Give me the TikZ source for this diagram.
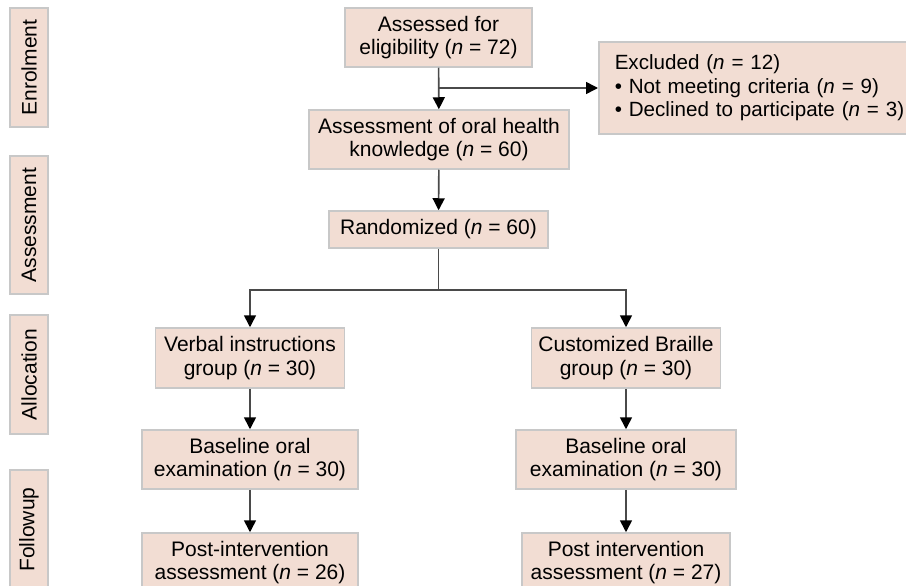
\documentclass[tikz,border=0pt]{standalone}
\usepackage{fontspec}
\setmainfont{Liberation Sans}
\usetikzlibrary{arrows.meta}

\definecolor{boxfill}{HTML}{F2DDD3}
\definecolor{boxline}{HTML}{C8C8C8}
\definecolor{wire}{HTML}{4A4A4A}

\begin{document}
\begin{tikzpicture}[x=1pt,y=-1pt,
  box/.style={draw=boxline,line width=1.5pt,fill=boxfill,align=center,
    inner sep=0pt,font=\fontsize{21}{23.5}\selectfont},
  phase/.style={box,rotate=90,minimum height=38pt},
  arr/.style={draw=wire,line width=1.6pt,-{Triangle[width=12pt,length=12pt,color=black]}}]

\useasboundingbox (0,0) rectangle (906,586);

% phases
\node [phase,minimum width=119pt] (enrol) at (29, 67.5) {Enrolment};
\node [phase,minimum width=138pt] (asses) at (29,225)   {Assessment};
\node [phase,minimum width=119pt] (alloc) at (29,374.5) {Allocation};
\node [phase,minimum width=119pt] (follw) at (29,529.5) {Followup};

\node [box,minimum width=187pt,minimum height=59pt] (elig) at (438.5, 37.5) {Assessed for\\eligibility (\textit{n} = 72)};
\node [box,minimum width=260pt,minimum height=59pt] (know) at (439,139.5) {Assessment of oral health\\knowledge (\textit{n} = 60)};
\node [box,minimum width=219pt,minimum height=37pt] (rand) at (438.5,229.5) {Randomized (\textit{n} = 60)};

\node [box,anchor=west,align=left,text width=310pt,inner xsep=16pt,minimum height=92pt,
  font=\fontsize{20.6}{23.5}\selectfont] (excl) at (598,88)
  {Excluded (\textit{n} = 12)\\ \textbullet{} Not meeting criteria (\textit{n} = 9)\\ \textbullet{} Declined to participate (\textit{n} = 3)};

\node [box,minimum width=189pt,minimum height=60pt] (verb)  at (250,358)   {Verbal instructions\\group (\textit{n} = 30)};
\node [box,minimum width=216pt,minimum height=59pt] (baseL) at (250,459.5) {Baseline oral\\examination (\textit{n} = 30)};
\node [box,minimum width=216pt,minimum height=59pt] (postL) at (250,562.5) {Post-intervention\\assessment (\textit{n} = 26)};

\node [box,minimum width=189pt,minimum height=60pt] (cust)  at (626,358)   {Customized Braille\\group (\textit{n} = 30)};
\node [box,minimum width=220pt,minimum height=59pt] (baseR) at (626,459.5) {Baseline oral\\examination (\textit{n} = 30)};
\node [box,minimum width=208pt,minimum height=59pt] (postR) at (626,562.5) {Post intervention\\assessment (\textit{n} = 27)};

\coordinate (split) at (438.5,290);

\draw [arr] (elig) to (know);
\draw [arr] (elig.south |- excl.west) to (excl.west);
\draw [arr] (know) to (rand);

\draw [draw=wire,line width=1.6pt] (rand.south) to (split);
\draw [arr] (split) -| (verb.north);
\draw [arr] (split) -| (cust.north);

\foreach \i/\j in {verb/baseL,baseL/postL,cust/baseR,baseR/postR} {
\draw [arr] (\i) to (\j);
}

\end{tikzpicture}
\end{document}
